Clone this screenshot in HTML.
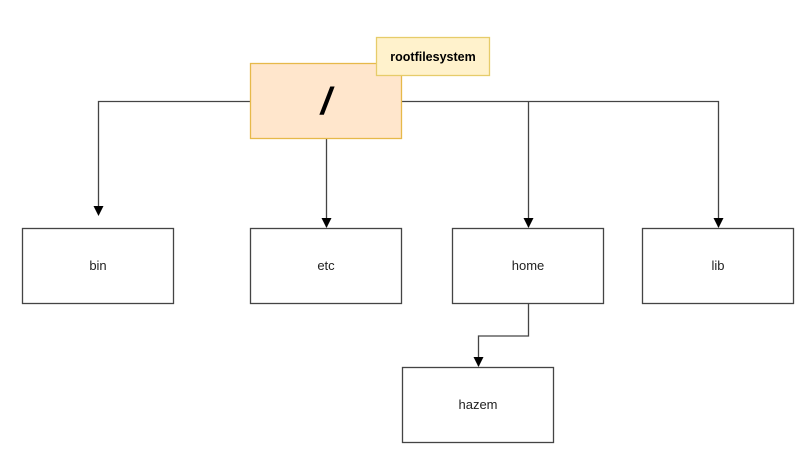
<!DOCTYPE html>
<html><head><meta charset="utf-8"><style>html,body{margin:0;padding:0;background:#fff;}svg{display:block}</style></head>
<body>
<svg width="810" height="455" viewBox="0 0 810 455" xmlns="http://www.w3.org/2000/svg" font-family="Liberation Sans, sans-serif">
<defs><marker id="a" markerWidth="10" markerHeight="10" refX="5" refY="8" orient="auto" markerUnits="userSpaceOnUse"><path d="M0,0 L10,0 L5,9 Z" transform="rotate(-90 5 5)" fill="#000"/></marker></defs>
<g stroke="#444" stroke-width="1.3" fill="none">
<path d="M250,101.5 H98.5 V214"/>
<path d="M326.5,139 V227"/>
<path d="M402,101.5 H718.5 V227"/>
<path d="M528.5,101.5 V227"/>
<path d="M528.5,304 V336 H478.5 V366"/>
</g>
<g fill="#000">
<path d="M93.5,206 L103.5,206 L98.5,216 Z"/>
<path d="M321.5,218 L331.5,218 L326.5,228 Z"/>
<path d="M523.5,218 L533.5,218 L528.5,228 Z"/>
<path d="M713.5,218 L723.5,218 L718.5,228 Z"/>
<path d="M473.5,357 L483.5,357 L478.5,367 Z"/>
</g>
<rect x="250.5" y="63.5" width="151" height="75" fill="#ffe6cc" stroke="#e6b94a" stroke-width="1.3"/>
<text x="326" y="114" font-size="38" font-weight="bold" font-style="italic" text-anchor="middle">/</text>
<rect x="376.5" y="37.5" width="113" height="38" fill="#fff2cc" stroke="#e6cc6a" stroke-width="1.3"/>
<text x="433" y="61" font-size="12.5" font-weight="bold" text-anchor="middle">rootfilesystem</text>
<g fill="#fff" stroke="#444" stroke-width="1.3">
<rect x="22.5" y="228.5" width="151" height="75"/>
<rect x="250.5" y="228.5" width="151" height="75"/>
<rect x="452.5" y="228.5" width="151" height="75"/>
<rect x="642.5" y="228.5" width="151" height="75"/>
<rect x="402.5" y="367.5" width="151" height="75"/>
</g>
<g font-size="13" fill="#222" text-anchor="middle">
<text x="98" y="270">bin</text>
<text x="326" y="270">etc</text>
<text x="528" y="270">home</text>
<text x="718" y="270">lib</text>
<text x="478" y="409">hazem</text>
</g>
</svg>
</body></html>
